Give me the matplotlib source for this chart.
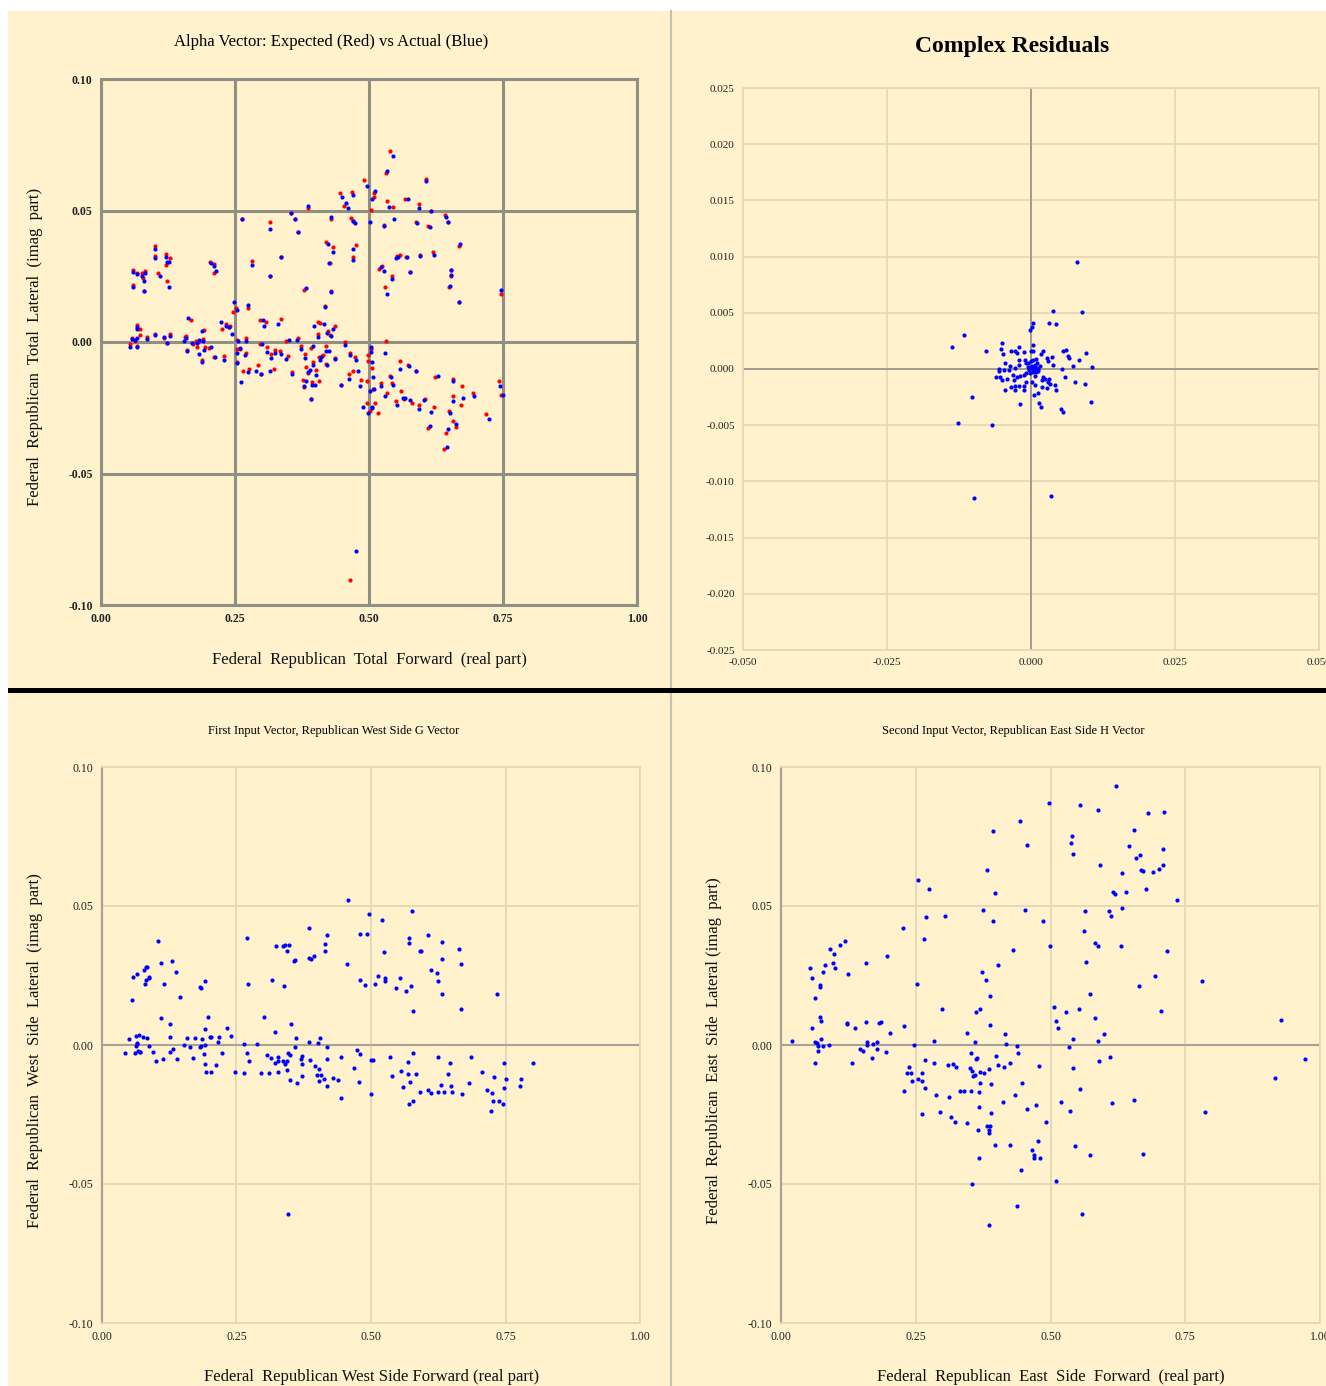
import numpy as np
import matplotlib
matplotlib.use("Agg")
import matplotlib.pyplot as plt
from matplotlib.patches import Rectangle
from matplotlib.lines import Line2D

plt.rcParams["font.family"] = ["Liberation Serif", "DejaVu Serif"]

# ---- panel 1: alpha vector, expected (red) vs actual (blue), (real, imag)
alpha_expected = [
    (0.101, 0.0365), (0.101, 0.0328), (0.121, 0.0335), (0.128, 0.0319), (0.121, 0.0293),
    (0.060, 0.0274), (0.068, 0.0261), (0.076, 0.0261), (0.083, 0.0271), (0.078, 0.0242),
    (0.107, 0.0264), (0.124, 0.0231), (0.060, 0.0218), (0.081, 0.0194), (0.204, 0.0303),
    (0.211, 0.0297), (0.211, 0.0264), (0.067, 0.0065), (0.073, 0.0048), (0.058, 0.0016),
    (0.072, 0.0025), (0.063, 0.0004), (0.055, -0.0009), (0.067, -0.0016), (0.085, 0.0018),
    (0.101, 0.0030), (0.118, 0.0015), (0.128, 0.0029), (0.124, -0.0005), (0.156, 0.0018),
    (0.159, 0.0023), (0.167, 0.0084), (0.172, -0.0009), (0.178, 0.0003), (0.182, 0.0005),
    (0.190, 0.0013), (0.192, 0.0046), (0.160, -0.0030), (0.180, -0.0020), (0.194, -0.0018),
    (0.201, -0.0022), (0.211, -0.0057), (0.230, -0.0053), (0.225, 0.0051), (0.233, 0.0067),
    (0.239, 0.0058), (0.188, -0.0068),
    (0.539, 0.0726), (0.532, 0.0644), (0.490, 0.0615), (0.469, 0.0569), (0.445, 0.0567),
    (0.453, 0.0516), (0.509, 0.0551), (0.509, 0.0568), (0.534, 0.0536), (0.545, 0.0512),
    (0.567, 0.0542), (0.606, 0.0620), (0.593, 0.0526), (0.616, 0.0498), (0.504, 0.0501),
    (0.387, 0.0510), (0.355, 0.0492), (0.362, 0.0469), (0.263, 0.0469), (0.315, 0.0455),
    (0.368, 0.0418), (0.429, 0.0469), (0.466, 0.0470), (0.471, 0.0461), (0.528, 0.0446),
    (0.587, 0.0458), (0.611, 0.0442), (0.420, 0.0380), (0.433, 0.0360), (0.475, 0.0370),
    (0.336, 0.0322), (0.281, 0.0307), (0.470, 0.0322), (0.427, 0.0302), (0.316, 0.0252),
    (0.379, 0.0198), (0.429, 0.0195), (0.417, 0.0138), (0.518, 0.0279), (0.524, 0.0289),
    (0.543, 0.0252), (0.530, 0.0210), (0.552, 0.0328), (0.557, 0.0331), (0.569, 0.0324),
    (0.577, 0.0265), (0.596, 0.0331), (0.619, 0.0342),
    (0.246, 0.0115), (0.251, 0.0128), (0.274, 0.0128), (0.241, 0.0062), (0.297, 0.0084),
    (0.307, 0.0075), (0.336, 0.0089), (0.254, 0.0006), (0.271, 0.0016), (0.253, -0.0028),
    (0.260, -0.0025), (0.270, -0.0043), (0.253, -0.0075), (0.264, -0.0109), (0.276, -0.0104),
    (0.292, -0.0089), (0.297, -0.0006), (0.299, -0.0120), (0.310, -0.0019), (0.322, -0.0101),
    (0.317, -0.0047), (0.324, -0.0030), (0.334, -0.0034), (0.349, -0.0052), (0.345, 0.0004),
    (0.367, 0.0016), (0.374, -0.0014), (0.356, -0.0115), (0.380, -0.0044), (0.391, -0.0022),
    (0.404, 0.0077), (0.409, 0.0074), (0.404, 0.0030), (0.423, 0.0043), (0.437, 0.0061),
    (0.428, 0.0028), (0.383, -0.0094), (0.386, -0.0119), (0.377, -0.0144), (0.379, -0.0171),
    (0.394, -0.0153), (0.407, -0.0147), (0.401, -0.0106), (0.396, -0.0075), (0.407, -0.0057),
    (0.412, -0.0052), (0.415, -0.0049), (0.420, -0.0016), (0.419, -0.0082), (0.437, -0.0060),
    (0.391, -0.0215), (0.455, -0.0001), (0.473, -0.0056), (0.464, -0.0043), (0.471, -0.0112),
    (0.463, -0.0123), (0.448, -0.0165), (0.486, -0.0144), (0.496, -0.0150), (0.499, -0.0072),
    (0.499, -0.0051), (0.503, -0.0025), (0.506, -0.0099), (0.507, -0.0177), (0.496, -0.0231),
    (0.512, -0.0233), (0.502, -0.0261), (0.516, -0.0271), (0.532, 0.0003), (0.522, -0.0157),
    (0.533, -0.0195), (0.542, -0.0157), (0.540, -0.0129), (0.557, -0.0074), (0.551, -0.0226),
    (0.560, -0.0188), (0.565, -0.0218), (0.573, -0.0086), (0.580, -0.0233), (0.587, -0.0112),
    (0.594, -0.0240), (0.604, -0.0215), (0.611, -0.0328), (0.622, -0.0247), (0.624, -0.0134),
    (0.641, 0.0483), (0.648, 0.0455), (0.668, 0.0366), (0.653, 0.0272), (0.653, 0.0251),
    (0.649, 0.0208), (0.667, 0.0151), (0.746, 0.0183), (0.656, -0.0139), (0.674, -0.0166),
    (0.656, -0.0207), (0.672, -0.0241), (0.694, -0.0195), (0.650, -0.0262), (0.656, -0.0300),
    (0.663, -0.0324), (0.643, -0.0345), (0.640, -0.0406), (0.742, -0.0150), (0.747, -0.0203),
    (0.718, -0.0272), (0.465, -0.0905),
]
alpha_actual = [
    (0.101, 0.0355), (0.100, 0.0318), (0.121, 0.0324), (0.126, 0.0305), (0.124, 0.0303),
    (0.060, 0.0265), (0.068, 0.0257), (0.077, 0.0252), (0.083, 0.0264), (0.080, 0.0233),
    (0.110, 0.0252), (0.127, 0.0210), (0.060, 0.0209), (0.081, 0.0194), (0.205, 0.0302),
    (0.211, 0.0289), (0.214, 0.0271), (0.067, 0.0056), (0.067, 0.0048), (0.058, 0.0010),
    (0.068, 0.0014), (0.063, 0.0008), (0.055, -0.0019), (0.067, -0.0020), (0.085, 0.0013),
    (0.101, 0.0027), (0.118, 0.0018), (0.128, 0.0023), (0.124, -0.0005), (0.154, 0.0005),
    (0.159, 0.0014), (0.162, 0.0093), (0.170, -0.0005), (0.179, -0.0003), (0.182, 0.0008),
    (0.190, 0.0004), (0.189, 0.0041), (0.160, -0.0035), (0.183, -0.0046), (0.193, -0.0030),
    (0.206, -0.0020), (0.213, -0.0057), (0.230, -0.0068), (0.223, 0.0077), (0.233, 0.0062),
    (0.238, 0.0056), (0.189, -0.0075),
    (0.544, 0.0707), (0.534, 0.0651), (0.496, 0.0593), (0.470, 0.0560), (0.450, 0.0553),
    (0.458, 0.0527), (0.506, 0.0545), (0.512, 0.0575), (0.537, 0.0513), (0.547, 0.0469),
    (0.573, 0.0545), (0.607, 0.0613), (0.594, 0.0510), (0.616, 0.0498), (0.501, 0.0455),
    (0.386, 0.0518), (0.355, 0.0492), (0.362, 0.0469), (0.263, 0.0469), (0.315, 0.0430),
    (0.368, 0.0418), (0.430, 0.0474), (0.470, 0.0459), (0.474, 0.0451), (0.528, 0.0441),
    (0.590, 0.0452), (0.613, 0.0436), (0.424, 0.0371), (0.432, 0.0343), (0.471, 0.0352),
    (0.336, 0.0322), (0.281, 0.0292), (0.470, 0.0312), (0.426, 0.0299), (0.316, 0.0252),
    (0.383, 0.0207), (0.430, 0.0191), (0.417, 0.0134), (0.522, 0.0286), (0.528, 0.0271),
    (0.542, 0.0240), (0.533, 0.0183), (0.551, 0.0318), (0.555, 0.0324), (0.570, 0.0322),
    (0.577, 0.0265), (0.596, 0.0328), (0.621, 0.0330), (0.460, 0.0510),
    (0.249, 0.0151), (0.253, 0.0122), (0.274, 0.0141), (0.244, 0.0030), (0.302, 0.0084),
    (0.304, 0.0062), (0.330, 0.0067), (0.256, 0.0003), (0.271, 0.0005), (0.253, -0.0041),
    (0.259, -0.0023), (0.269, -0.0051), (0.254, -0.0081), (0.262, -0.0151), (0.275, -0.0115),
    (0.290, -0.0109), (0.301, -0.0009), (0.299, -0.0123), (0.310, -0.0039), (0.315, -0.0110),
    (0.318, -0.0061), (0.325, -0.0041), (0.335, -0.0044), (0.346, -0.0063), (0.350, 0.0008),
    (0.366, 0.0008), (0.373, -0.0025), (0.356, -0.0120), (0.380, -0.0061), (0.396, -0.0016),
    (0.398, 0.0062), (0.416, 0.0068), (0.404, 0.0020), (0.422, 0.0035), (0.433, 0.0048),
    (0.430, 0.0023), (0.390, -0.0106), (0.386, -0.0115), (0.383, -0.0150), (0.379, -0.0166),
    (0.393, -0.0162), (0.399, -0.0163), (0.401, -0.0125), (0.396, -0.0089), (0.409, -0.0068),
    (0.410, -0.0056), (0.420, -0.0034), (0.425, -0.0035), (0.421, -0.0088), (0.437, -0.0063),
    (0.392, -0.0215), (0.455, -0.0011), (0.475, -0.0068), (0.465, -0.0048), (0.480, -0.0110),
    (0.463, -0.0141), (0.448, -0.0165), (0.483, -0.0167), (0.502, -0.0185), (0.505, -0.0077),
    (0.504, -0.0038), (0.504, -0.0020), (0.507, -0.0134), (0.509, -0.0180), (0.489, -0.0246),
    (0.506, -0.0252), (0.499, -0.0269), (0.506, -0.0246), (0.530, -0.0043), (0.522, -0.0167),
    (0.530, -0.0205), (0.544, -0.0165), (0.541, -0.0133), (0.558, -0.0101), (0.552, -0.0240),
    (0.563, -0.0212), (0.568, -0.0212), (0.574, -0.0090), (0.577, -0.0219), (0.587, -0.0112),
    (0.593, -0.0256), (0.602, -0.0219), (0.613, -0.0320), (0.616, -0.0265), (0.629, -0.0131),
    (0.644, 0.0475), (0.648, 0.0455), (0.669, 0.0374), (0.653, 0.0272), (0.653, 0.0254),
    (0.652, 0.0213), (0.667, 0.0152), (0.747, 0.0199), (0.656, -0.0148), (0.675, -0.0213),
    (0.656, -0.0226), (0.662, -0.0313), (0.695, -0.0204), (0.651, -0.0270), (0.648, -0.0332),
    (0.646, -0.0400), (0.744, -0.0169), (0.750, -0.0203), (0.723, -0.0293), (0.476, -0.0795),
]

# ---- panel 2: complex residuals (real, imag)
residuals = [
    (0.0079, 0.0095), (0.0039, 0.0052), (0.0089, 0.0051), (0.0032, 0.0041), (0.0043, 0.0040),
    (0.0004, 0.0041), (0.0002, 0.0037), (-0.0001, 0.0035), (-0.0116, 0.0030), (-0.0137, 0.0020),
    (-0.0078, 0.0016), (-0.0051, 0.0023), (-0.0052, 0.0018), (-0.0020, 0.0020), (-0.0035, 0.0016),
    (-0.0028, 0.0016), (-0.0025, 0.0014), (-0.0049, 0.0013), (-0.0013, 0.0015), (0.0004, 0.0021),
    (0.0000, 0.0016), (0.0004, 0.0016), (0.0021, 0.0016), (0.0017, 0.0013), (0.0056, 0.0016),
    (0.0060, 0.0017), (0.0066, 0.0010), (0.0065, 0.0012), (0.0096, 0.0014), (0.0083, 0.0008),
    (0.0073, 0.0003), (0.0106, 0.0002), (0.0053, 0.0000), (0.0036, 0.0011), (0.0027, 0.0010),
    (0.0030, 0.0007), (0.0038, 0.0004), (-0.0045, 0.0005), (-0.0036, 0.0003), (-0.0055, 0.0000),
    (-0.0056, -0.0002), (-0.0047, -0.0001), (-0.0039, -0.0001), (-0.0027, 0.0001), (-0.0021, 0.0004),
    (-0.0021, 0.0008), (-0.0010, 0.0008), (-0.0009, 0.0005),
    (-0.0005, 0.0005), (0.0000, 0.0007), (0.0004, 0.0008), (0.0007, 0.0004), (0.0001, 0.0001),
    (-0.0003, -0.0001), (0.0005, -0.0002), (0.0010, 0.0001), (0.0003, -0.0003), (-0.0006, 0.0002),
    (0.0011, 0.0005), (0.0016, 0.0003), (0.0013, -0.0002), (-0.0002, -0.0004), (0.0007, -0.0006),
    (-0.0008, -0.0004), (0.0002, 0.0003), (0.0006, 0.0001), (-0.0001, 0.0002), (0.0008, 0.0009),
    (0.0004, -0.0001), (0.0012, 0.0000), (-0.0004, 0.0000), (0.0009, -0.0003),
    (-0.0061, -0.0007), (-0.0054, -0.0007), (-0.0051, -0.0010), (-0.0041, -0.0009), (-0.0031, -0.0005),
    (-0.0025, -0.0007), (-0.0019, -0.0006), (-0.0012, -0.0005), (-0.0029, -0.0010), (-0.0034, -0.0016),
    (-0.0027, -0.0015), (-0.0021, -0.0015), (-0.0012, -0.0015), (-0.0045, -0.0019), (-0.0028, -0.0019),
    (-0.0012, -0.0019), (-0.0008, -0.0012), (0.0001, -0.0012), (0.0007, -0.0014), (0.0005, -0.0023),
    (0.0013, -0.0021), (0.0019, -0.0010), (0.0021, -0.0007), (0.0025, -0.0009), (0.0030, -0.0012),
    (0.0032, -0.0009), (0.0019, -0.0016), (0.0028, -0.0017), (0.0033, -0.0013), (0.0041, -0.0014),
    (0.0043, -0.0019), (0.0059, -0.0007), (0.0077, -0.0012), (0.0093, -0.0013), (0.0105, -0.0029),
    (0.0014, -0.0030), (0.0017, -0.0034), (-0.0019, -0.0031), (0.0052, -0.0036), (0.0056, -0.0038),
    (-0.0102, -0.0025), (-0.0127, -0.0048), (-0.0067, -0.0050), (-0.0099, -0.0115), (0.0034, -0.0113),
]

# ---- panel 3: G vector (west side)
g_vector = [
    (0.458, 0.0522), (0.496, 0.0471), (0.521, 0.0451), (0.385, 0.0422), (0.419, 0.0397),
    (0.479, 0.0401), (0.493, 0.0401), (0.269, 0.0385), (0.104, 0.0375), (0.414, 0.0363),
    (0.323, 0.0355), (0.337, 0.0356), (0.340, 0.0358), (0.348, 0.0361), (0.343, 0.0337),
    (0.414, 0.0339), (0.524, 0.0334), (0.359, 0.0307), (0.357, 0.0303), (0.385, 0.0313),
    (0.389, 0.0309), (0.394, 0.0321), (0.131, 0.0302), (0.110, 0.0296), (0.455, 0.0293),
    (0.137, 0.0263), (0.082, 0.0280), (0.085, 0.0280), (0.078, 0.0270), (0.066, 0.0256),
    (0.059, 0.0243), (0.087, 0.0246), (0.088, 0.0242), (0.083, 0.0234), (0.081, 0.0219),
    (0.115, 0.0221), (0.191, 0.0232), (0.183, 0.0210), (0.184, 0.0206), (0.271, 0.0220),
    (0.317, 0.0233), (0.339, 0.0214), (0.479, 0.0233), (0.489, 0.0216), (0.508, 0.0218),
    (0.512, 0.0248), (0.526, 0.0242), (0.525, 0.0230), (0.056, 0.0161), (0.145, 0.0173),
    (0.198, 0.0102), (0.110, 0.0096), (0.126, 0.0076), (0.301, 0.0101), (0.352, 0.0076),
    (0.322, 0.0046), (0.233, 0.0061), (0.192, 0.0056), (0.240, 0.0032), (0.050, 0.0020),
    (0.064, 0.0031), (0.070, 0.0036), (0.077, 0.0030), (0.084, 0.0024), (0.127, 0.0028),
    (0.159, 0.0025), (0.173, 0.0026), (0.187, 0.0020), (0.201, 0.0028), (0.203, 0.0030),
    (0.218, 0.0028), (0.216, 0.0012), (0.360, 0.0024), (0.385, 0.0012), (0.401, 0.0008),
    (0.406, 0.0024), (0.065, 0.0004), (0.066, 0.0007), (0.063, -0.0005), (0.088, -0.0005),
    (0.152, -0.0001), (0.163, -0.0006), (0.183, -0.0008), (0.184, -0.0005), (0.192, 0.0001),
    (0.265, 0.0004), (0.289, 0.0005), (0.419, -0.0007), (0.359, -0.0008), (0.043, -0.0030),
    (0.061, -0.0029), (0.067, -0.0022), (0.071, -0.0025), (0.072, -0.0025), (0.096, -0.0026),
    (0.127, -0.0026), (0.132, -0.0016), (0.190, -0.0032), (0.223, -0.0029), (0.269, -0.0029),
    (0.100, -0.0059), (0.114, -0.0052), (0.140, -0.0049), (0.170, -0.0048), (0.213, -0.0072),
    (0.192, -0.0070), (0.193, -0.0096), (0.202, -0.0096), (0.247, -0.0097), (0.264, -0.0099),
    (0.273, -0.0059), (0.296, -0.0099), (0.310, -0.0099), (0.306, -0.0037), (0.314, -0.0046),
    (0.327, -0.0044), (0.322, -0.0063), (0.327, -0.0056), (0.337, -0.0056), (0.340, -0.0069),
    (0.344, -0.0056), (0.346, -0.0029), (0.350, -0.0035), (0.328, -0.0097), (0.344, -0.0091),
    (0.349, -0.0126), (0.362, -0.0138), (0.371, -0.0041), (0.369, -0.0049), (0.372, -0.0070),
    (0.371, -0.0113), (0.387, -0.0053), (0.395, -0.0077), (0.403, -0.0085), (0.400, -0.0107),
    (0.407, -0.0107), (0.404, -0.0129), (0.413, -0.0124), (0.419, -0.0052), (0.419, -0.0149),
    (0.430, -0.0118), (0.439, -0.0126), (0.444, -0.0044), (0.445, -0.0190), (0.469, -0.0084),
    (0.474, -0.0019), (0.479, -0.0034), (0.478, -0.0132), (0.499, -0.0054), (0.504, -0.0054),
    (0.499, -0.0177), (0.536, -0.0044), (0.538, -0.0113), (0.346, -0.0608),
    (0.575, 0.0482), (0.606, 0.0394), (0.570, 0.0386), (0.570, 0.0367), (0.632, 0.0370),
    (0.590, 0.0339), (0.592, 0.0339), (0.664, 0.0347), (0.632, 0.0310), (0.666, 0.0290),
    (0.612, 0.0268), (0.622, 0.0258), (0.554, 0.0240), (0.625, 0.0231), (0.547, 0.0204),
    (0.564, 0.0195), (0.574, 0.0214), (0.632, 0.0185), (0.733, 0.0182), (0.577, 0.0124),
    (0.666, 0.0131), (0.578, -0.0028), (0.568, -0.0060), (0.624, -0.0043), (0.646, -0.0066),
    (0.685, -0.0044), (0.747, -0.0065), (0.800, -0.0066), (0.556, -0.0095), (0.568, -0.0106),
    (0.583, -0.0106), (0.642, -0.0105), (0.706, -0.0097), (0.573, -0.0133), (0.560, -0.0150),
    (0.630, -0.0143), (0.648, -0.0147), (0.681, -0.0138), (0.729, -0.0115), (0.750, -0.0124),
    (0.779, -0.0121), (0.590, -0.0169), (0.605, -0.0163), (0.612, -0.0174), (0.624, -0.0169),
    (0.635, -0.0169), (0.650, -0.0168), (0.669, -0.0176), (0.716, -0.0162), (0.725, -0.0173),
    (0.747, -0.0154), (0.776, -0.0149), (0.570, -0.0213), (0.578, -0.0203), (0.726, -0.0201),
    (0.738, -0.0202), (0.744, -0.0213), (0.723, -0.0239),
]

# ---- panel 4: H vector (east side)
h_vector = [
    (0.622, 0.0932), (0.498, 0.0870), (0.555, 0.0864), (0.589, 0.0847), (0.681, 0.0836),
    (0.711, 0.0837), (0.443, 0.0805), (0.394, 0.0770), (0.654, 0.0773), (0.456, 0.0721),
    (0.539, 0.0753), (0.538, 0.0727), (0.542, 0.0688), (0.646, 0.0715), (0.708, 0.0704),
    (0.666, 0.0683), (0.659, 0.0673), (0.591, 0.0649), (0.709, 0.0646), (0.702, 0.0634),
    (0.668, 0.0628), (0.671, 0.0625), (0.690, 0.0621), (0.632, 0.0620), (0.383, 0.0629),
    (0.255, 0.0594), (0.274, 0.0561), (0.397, 0.0548), (0.616, 0.0550), (0.619, 0.0544),
    (0.640, 0.0552), (0.678, 0.0561), (0.735, 0.0523), (0.375, 0.0484), (0.453, 0.0486),
    (0.564, 0.0482), (0.609, 0.0483), (0.633, 0.0492), (0.613, 0.0463), (0.269, 0.0459),
    (0.304, 0.0464), (0.393, 0.0446), (0.486, 0.0446), (0.226, 0.0420), (0.562, 0.0410),
    (0.266, 0.0383), (0.583, 0.0367), (0.588, 0.0355), (0.631, 0.0357), (0.499, 0.0356),
    (0.430, 0.0341), (0.717, 0.0337), (0.118, 0.0374), (0.109, 0.0359), (0.090, 0.0347),
    (0.098, 0.0329), (0.197, 0.0319), (0.402, 0.0289), (0.566, 0.0300), (0.053, 0.0278),
    (0.082, 0.0289), (0.097, 0.0296), (0.100, 0.0276), (0.077, 0.0261), (0.157, 0.0295),
    (0.124, 0.0254), (0.057, 0.0240), (0.373, 0.0263), (0.380, 0.0235), (0.694, 0.0248),
    (0.072, 0.0217), (0.072, 0.0209), (0.252, 0.0221), (0.664, 0.0212), (0.782, 0.0229),
    (0.063, 0.0169), (0.388, 0.0177), (0.573, 0.0182), (0.298, 0.0131), (0.369, 0.0129),
    (0.362, 0.0119), (0.507, 0.0138), (0.529, 0.0119), (0.553, 0.0131), (0.705, 0.0122),
    (0.073, 0.0102), (0.075, 0.0088), (0.123, 0.0080), (0.123, 0.0077), (0.157, 0.0082),
    (0.181, 0.0078), (0.185, 0.0083), (0.583, 0.0098), (0.510, 0.0085), (0.513, 0.0061),
    (0.057, 0.0062), (0.138, 0.0060), (0.228, 0.0067), (0.388, 0.0072), (0.203, 0.0043),
    (0.345, 0.0044), (0.415, 0.0038), (0.600, 0.0038), (0.928, 0.0091), (0.021, 0.0013),
    (0.064, 0.0012), (0.067, 0.0007), (0.074, 0.0022), (0.069, -0.0002), (0.077, -0.0005),
    (0.089, 0.0000), (0.159, 0.0011), (0.159, -0.0001), (0.170, 0.0005), (0.178, 0.0012),
    (0.147, -0.0016), (0.152, -0.0020), (0.179, -0.0014), (0.195, -0.0026), (0.069, -0.0020),
    (0.064, -0.0066), (0.132, -0.0064), (0.169, -0.0047), (0.246, 0.0000), (0.283, 0.0014),
    (0.359, 0.0010), (0.418, 0.0005), (0.438, -0.0004), (0.439, -0.0029), (0.541, 0.0022),
    (0.534, -0.0008), (0.588, 0.0014), (0.610, -0.0042), (0.590, -0.0059), (0.542, -0.0083),
    (0.478, -0.0077), (0.352, -0.0030), (0.364, -0.0046), (0.362, -0.0052), (0.399, -0.0041),
    (0.403, -0.0072), (0.413, -0.0078), (0.424, -0.0066), (0.386, -0.0088), (0.376, -0.0102),
    (0.370, -0.0096), (0.360, -0.0107), (0.357, -0.0110), (0.351, -0.0083), (0.354, -0.0094),
    (0.267, -0.0055), (0.283, -0.0064), (0.309, -0.0071), (0.319, -0.0070), (0.325, -0.0079),
    (0.237, -0.0080), (0.233, -0.0100), (0.241, -0.0100), (0.261, -0.0100), (0.243, -0.0131),
    (0.254, -0.0122), (0.261, -0.0129), (0.267, -0.0156), (0.228, -0.0164), (0.369, -0.0138),
    (0.390, -0.0141), (0.447, -0.0138), (0.287, -0.0181), (0.311, -0.0186), (0.333, -0.0164),
    (0.340, -0.0164), (0.352, -0.0165), (0.367, -0.0169), (0.411, -0.0205), (0.435, -0.0181),
    (0.474, -0.0215), (0.457, -0.0231), (0.519, -0.0205), (0.536, -0.0237), (0.555, -0.0158),
    (0.614, -0.0207), (0.655, -0.0197), (0.787, -0.0242), (0.917, -0.0119), (0.973, -0.0050),
    (0.262, -0.0248), (0.295, -0.0240), (0.315, -0.0258), (0.323, -0.0276), (0.345, -0.0279),
    (0.367, -0.0224), (0.389, -0.0245), (0.366, -0.0307), (0.383, -0.0293), (0.387, -0.0293),
    (0.386, -0.0306), (0.386, -0.0315), (0.492, -0.0278), (0.397, -0.0359), (0.425, -0.0361),
    (0.476, -0.0344), (0.466, -0.0379), (0.470, -0.0397), (0.470, -0.0405), (0.481, -0.0408),
    (0.545, -0.0365), (0.573, -0.0394), (0.671, -0.0393), (0.367, -0.0405), (0.445, -0.0450),
    (0.510, -0.0490), (0.354, -0.0499), (0.437, -0.0580), (0.559, -0.0607), (0.386, -0.0646),
]

W, H = 1326, 1386
CREAM = "#FFF2CC"
TAN = "#E4D7B3"
DOT = 9

fig = plt.figure(figsize=(W / 100, H / 100), dpi=100)
fig.patch.set_facecolor("white")


def box(x0, y0, x1, y1):
    # pixel box (top-left origin) -> figure fraction [l, b, w, h]
    return [x0 / W, 1 - y1 / H, (x1 - x0) / W, (y1 - y0) / H]


fig.add_artist(Rectangle((8 / W, 0), 1 - 8 / W, 1 - 11 / H, transform=fig.transFigure,
                         facecolor=CREAM, edgecolor="none", zorder=0))
fig.add_artist(Line2D([671 / W, 671 / W], [0, 1 - 11 / H], transform=fig.transFigure,
                      color="#c4c0b4", lw=1.5, zorder=1))
fig.add_artist(Rectangle((8 / W, 1 - 693 / H), 1 - 8 / W, 5 / H, transform=fig.transFigure,
                         facecolor="black", edgecolor="none", zorder=2))


def label_texts(ax, title, tsize, tpos, xlabel=None, xpos=None, ylabel=None, ypos=None,
                tweight="normal"):
    ax.text(tpos[0], tpos[1], title, transform=ax.transAxes, ha="center", va="center",
            fontsize=tsize, fontweight=tweight, color="black")
    if xlabel:
        ax.text(xpos[0], xpos[1], xlabel, transform=ax.transAxes, ha="center", va="center",
                fontsize=12, color="#111111")
    if ylabel:
        ax.text(ypos[0], ypos[1], ylabel, transform=ax.transAxes, ha="center", va="center",
                fontsize=12, rotation=90, color="#111111")


# ---------------- panel 1 ----------------
ax1 = fig.add_axes(box(101, 79, 637, 605))
ax1.set_facecolor(CREAM)
exp = np.array(alpha_expected)
act = np.array(alpha_actual)
ax1.scatter(exp[:, 0], exp[:, 1], s=DOT, color="#FF0000", linewidths=0, zorder=3)
ax1.scatter(act[:, 0], act[:, 1], s=DOT, color="#0000FF", linewidths=0, zorder=3)
ax1.set_xlim(0, 1)
ax1.set_ylim(-0.10, 0.10)
ax1.set_xticks([0, 0.25, 0.5, 0.75, 1.0])
ax1.set_yticks([-0.10, -0.05, 0, 0.05, 0.10])
ax1.set_xticklabels(["0.00", "0.25", "0.50", "0.75", "1.00"])
ax1.set_yticklabels(["-0.10", "-0.05", "0.00", "0.05", "0.10"])
ax1.grid(True, color="#8f8f86", lw=2.2, zorder=1)
ax1.set_axisbelow(True)
for sp in ax1.spines.values():
    sp.set_color("#8f8f86")
    sp.set_linewidth(2.2)
ax1.tick_params(length=0, labelsize=8.5, pad=6, labelcolor="#222222")
for t in ax1.get_xticklabels() + ax1.get_yticklabels():
    t.set_fontweight("bold")
label_texts(ax1, "Alpha Vector: Expected (Red) vs Actual (Blue)", 12, (0.429, 1.070),
            "Federal  Republican  Total  Forward  (real part)", (0.5, -0.1046),
            "Federal  Republican  Total  Lateral  (imag  part)", (-0.123, 0.49))

# ---------------- panel 2 ----------------
ax2 = fig.add_axes(box(743, 88, 1319, 650))
ax2.set_facecolor(CREAM)
res = np.array(residuals)
ax2.scatter(res[:, 0], res[:, 1], s=DOT, color="#0000FF", linewidths=0, zorder=3)
ax2.set_xlim(-0.05, 0.05)
ax2.set_ylim(-0.025, 0.025)
ax2.set_xticks([-0.05, -0.025, 0, 0.025, 0.05])
ax2.set_xticklabels(["-0.050", "-0.025", "0.000", "0.025", "0.050"])
ax2.set_yticks([-0.025, -0.02, -0.015, -0.01, -0.005, 0, 0.005, 0.01, 0.015, 0.02, 0.025])
ax2.set_yticklabels(["-0.025", "-0.020", "-0.015", "-0.010", "-0.005", "0.000",
                     "0.005", "0.010", "0.015", "0.020", "0.025"])
ax2.grid(True, color=TAN, lw=1.2, zorder=1)
ax2.set_axisbelow(True)
ax2.axhline(0, color="#9c988c", lw=1.3, zorder=2)
ax2.axvline(0, color="#9c988c", lw=1.3, zorder=2)
for sp in ax2.spines.values():
    sp.set_color(TAN)
    sp.set_linewidth(1.2)
ax2.tick_params(length=0, labelsize=8, pad=6, labelcolor="#222222")
label_texts(ax2, "Complex Residuals", 17, (0.467, 1.073), tweight="bold")

# ---------------- panels 3 & 4 ----------------
def vector_panel(rect, data, title, xlabel, ylabel):
    ax = fig.add_axes(rect)
    ax.set_facecolor(CREAM)
    d = np.array(data)
    ax.scatter(d[:, 0], d[:, 1], s=DOT, color="#0000FF", linewidths=0, zorder=3)
    ax.set_xlim(0, 1)
    ax.set_ylim(-0.10, 0.10)
    ax.set_xticks([0, 0.25, 0.5, 0.75, 1.0])
    ax.set_yticks([-0.10, -0.05, 0, 0.05, 0.10])
    ax.set_xticklabels(["0.00", "0.25", "0.50", "0.75", "1.00"])
    ax.set_yticklabels(["-0.10", "-0.05", "0.00", "0.05", "0.10"])
    ax.grid(True, color=TAN, lw=1.3, zorder=1)
    ax.set_axisbelow(True)
    ax.axhline(0, color="#a7a397", lw=1.5, zorder=2)
    for sp in ax.spines.values():
        sp.set_color(TAN)
        sp.set_linewidth(1.3)
    ax.spines["left"].set_color("#a7a397")
    ax.spines["left"].set_linewidth(1.6)
    ax.tick_params(length=0, labelsize=8.5, pad=6, labelcolor="#222222")
    label_texts(ax, title, 9, (0.430, 1.065), xlabel, (0.5, -0.097), ylabel, (-0.124, 0.49))
    return ax


vector_panel(box(101.7, 767, 640.5, 1323), g_vector,
             "First Input Vector, Republican West Side G Vector",
             "Federal  Republican West Side Forward (real part)",
             "Federal  Republican  West  Side  Lateral  (imag  part)")
vector_panel(box(781, 767, 1320, 1323), h_vector,
             "Second Input Vector, Republican East Side H Vector",
             "Federal  Republican  East  Side  Forward  (real part)",
             "Federal  Republican  East  Side  Lateral (imag  part)")

fig.savefig("out.png", dpi=100, facecolor=fig.get_facecolor())
